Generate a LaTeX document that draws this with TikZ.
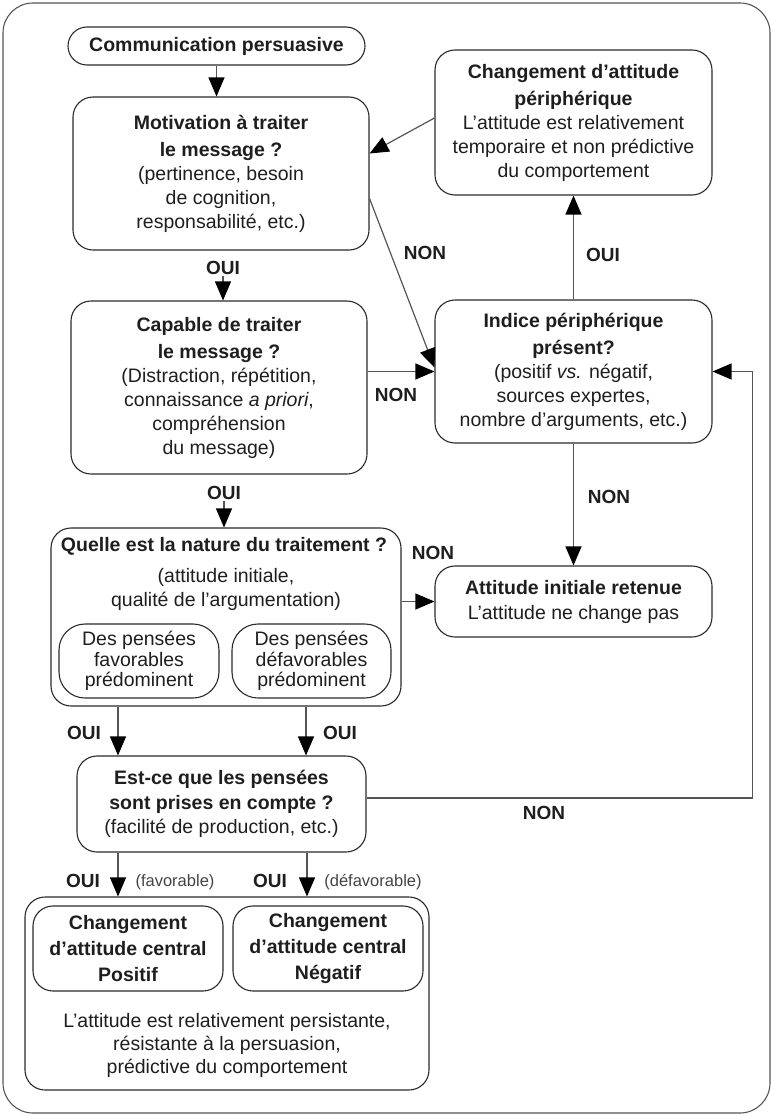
\documentclass[tikz,border=0pt]{standalone}
\usepackage{fontspec}
\setmainfont{Liberation Sans}
\usetikzlibrary{arrows.meta,calc}
\definecolor{txt}{HTML}{1E1E1E}
\definecolor{boxc}{HTML}{2A2A2A}
\definecolor{linec}{HTML}{555555}
\definecolor{smallc}{HTML}{444444}
\begin{document}
\begin{tikzpicture}[x=1pt,y=-1pt,
  box/.style={draw=boxc, line width=1.1pt, rounded corners=20pt, align=center, inner sep=0pt, text=txt,
    font=\fontsize{19.5}{24}\selectfont},
  lbl/.style={font=\fontsize{19}{22}\selectfont\bfseries, text=txt, inner sep=1pt},
  small/.style={font=\fontsize{16.5}{20}\selectfont, text=smallc, inner sep=1pt},
  free/.style={align=center, inner sep=0pt, text=txt, font=\fontsize{19.5}{24}\selectfont},
  arr/.style={draw=linec, line width=1.2pt, -{Triangle[length=19pt,width=16pt,color=black]}},
  conn/.style={draw=linec, line width=1.2pt}
]
\useasboundingbox (0,0) rectangle (773,1116);
% outer frame
\draw[draw=linec, line width=1.1pt, rounded corners=30pt] (3,3) rectangle (770,1113);

% nodes
\node[box, rounded corners=19pt, minimum width=297pt, minimum height=38pt] (comm) at (216.5,46) {\textbf{Communication persuasive}};
\node[box, minimum width=296pt, minimum height=153pt] (motiv) at (221,173.5)
  {\textbf{Motivation à traiter}\\[3pt]\textbf{le message ?}\\(pertinence, besoin\\de cognition,\\responsabilité, etc.)};
\node[box, minimum width=277pt, minimum height=145pt] (periph) at (573.5,122.5)
  {\textbf{Changement d’attitude}\\[3pt]\textbf{périphérique}\\L’attitude est relativement\\temporaire et non prédictive\\du comportement};
\node[box, minimum width=277pt, minimum height=143pt] (indice) at (573.5,371.5)
  {\textbf{Indice périphérique}\\[3pt]\textbf{présent?}\\(positif \textit{vs.} négatif,\\sources expertes,\\nombre d’arguments, etc.)};
\node[box, minimum width=296pt, minimum height=173pt] (capable) at (219,387.5)
  {\textbf{Capable de traiter}\\[3pt]\textbf{le message ?}\\(Distraction, répétition,\\connaissance \textit{a priori},\\compréhension\\du message)};
\node[box, minimum width=350pt, minimum height=178pt] (nature) at (226,617) {};
\node[free, font=\fontsize{19.5}{24}\selectfont\bfseries] (natT) at (224,546) {Quelle est la nature du traitement ?};
\node[free] (natS) at (226,589) {(attitude initiale,\\qualité de l’argumentation)};
\node[box, rounded corners=26pt, minimum width=160pt, minimum height=74pt, font=\fontsize{19.5}{20.5}\selectfont] (favL) at (139,661)
  {Des pensées\\favorables\\prédominent};
\node[box, rounded corners=26pt, minimum width=159pt, minimum height=74pt, font=\fontsize{19.5}{20.5}\selectfont] (favR) at (311.5,661)
  {Des pensées\\défavorables\\prédominent};
\node[box, minimum width=277pt, minimum height=71pt] (attitude) at (573.5,601.5)
  {\textbf{Attitude initiale retenue}\\[1pt]L’attitude ne change pas};
\node[box, minimum width=289pt, minimum height=96pt] (estce) at (221.5,804)
  {\textbf{Est-ce que les pensées}\\[1pt]\textbf{sont prises en compte ?}\\(facilité de production, etc.)};
\node[box, minimum width=404pt, minimum height=193pt] (cont) at (227,993.5) {};
\node[box, minimum width=190pt, minimum height=85pt, font=\fontsize{19.5}{26}\selectfont\bfseries] (cL) at (128,948.5)
  {Changement\\d’attitude central\\Positif};
\node[box, minimum width=190pt, minimum height=85pt, font=\fontsize{19.5}{26}\selectfont\bfseries] (cR) at (328,948.5)
  {Changement\\d’attitude central\\Négatif};
\node[free, font=\fontsize{19.5}{23}\selectfont] (contT) at (227,1045)
  {L’attitude est relativement persistante,\\résistante à la persuasion,\\prédictive du comportement};

% labels
\node[lbl] (oui1) at (223,268) {OUI};
\node[lbl] (oui2) at (224,493) {OUI};
\node[lbl] (non1) at (425,253) {NON};
\node[lbl] (ouiP) at (603,255) {OUI};
\node[lbl] (non2) at (396,395) {NON};
\node[lbl] (non3) at (609,497) {NON};
\node[lbl] (non4) at (433,553) {NON};
\node[lbl] (ouiL) at (84,733) {OUI};
\node[lbl] (ouiR) at (340,733) {OUI};
\node[lbl] (non5) at (544,813) {NON};
\node[lbl] (ouiB1) at (83,881) {OUI};
\node[small] (fav) at (175,882) {(favorable)};
\node[lbl] (ouiB2) at (270,881) {OUI};
\node[small] (defav) at (373,882) {(défavorable)};

% connectors
\draw[arr] (comm.south) -- (comm.south |- motiv.north);
\draw[arr] ([yshift=4.5pt]periph.west) -- ([yshift=20pt]motiv.east);
\draw[arr] ([yshift=52pt]motiv.south east) -- ([yshift=4pt]indice.west);
\draw[arr] (oui1.south) -- (oui1.south |- capable.north);
\draw[arr] (capable.east |- indice.west) -- (indice.west);
\draw[arr] (indice.north) -- (periph.south);
\draw[arr] (indice.south) -- (attitude.north);
\draw[arr] (oui2.south) -- (oui2.south |- nature.north);
\draw[arr] (nature.east |- attitude.west) -- (attitude.west);
\draw[arr] ([xshift=-108pt]nature.south) -- ([xshift=-108pt]nature.south |- estce.north);
\draw[arr] ([xshift=80pt]nature.south) -- ([xshift=80pt]nature.south |- estce.north);
\coordinate (rt) at (752.5,0);
\draw[arr] ([yshift=6pt]estce.east) -| (rt |- indice.east) -- (indice.east);
\draw[arr] ([xshift=-103.5pt]estce.south) -- ([xshift=-103.5pt]estce.south |- cont.north);
\draw[arr] ([xshift=85.5pt]estce.south) -- ([xshift=85.5pt]estce.south |- cont.north);
\end{tikzpicture}
\end{document}
